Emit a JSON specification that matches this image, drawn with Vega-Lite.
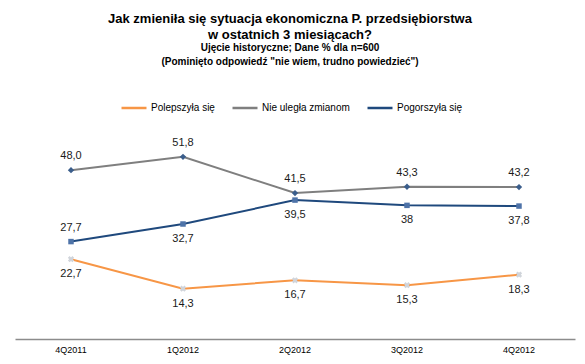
{
  "$schema": "https://vega.github.io/schema/vega-lite/v6.json",
  "autosize": "none",
  "width": 560,
  "height": 211,
  "padding": {"left": 15, "top": 128, "right": 10, "bottom": 25},
  "background": "white",
  "config": {
    "view": {"stroke": null},
    "font": "Liberation Sans"
  },
  "title": {
    "text": ["Jak zmieniła się sytuacja ekonomiczna P. przedsiębiorstwa", "w ostatnich 3 miesiącach?"],
    "subtitle": ["Ujęcie historyczne; Dane % dla n=600", "(Pominięto odpowiedź \"nie wiem, trudno powiedzieć\")"],
    "fontSize": 13,
    "fontWeight": "bold",
    "lineHeight": 16,
    "subtitleFontSize": 10,
    "subtitleFontWeight": "bold",
    "subtitleLineHeight": 14,
    "subtitlePadding": 1,
    "color": "#000000",
    "subtitleColor": "#000000",
    "anchor": "middle",
    "frame": "group",
    "dx": -5,
    "offset": 27
  },
  "data": {
    "values": [
      {"quarter": "4Q2011", "series": "Polepszyła się", "value": 22.7, "label": "22,7"},
      {"quarter": "1Q2012", "series": "Polepszyła się", "value": 14.3, "label": "14,3"},
      {"quarter": "2Q2012", "series": "Polepszyła się", "value": 16.7, "label": "16,7"},
      {"quarter": "3Q2012", "series": "Polepszyła się", "value": 15.3, "label": "15,3"},
      {"quarter": "4Q2012", "series": "Polepszyła się", "value": 18.3, "label": "18,3"},
      {"quarter": "4Q2011", "series": "Nie uległa zmianom", "value": 48.0, "label": "48,0"},
      {"quarter": "1Q2012", "series": "Nie uległa zmianom", "value": 51.8, "label": "51,8"},
      {"quarter": "2Q2012", "series": "Nie uległa zmianom", "value": 41.5, "label": "41,5"},
      {"quarter": "3Q2012", "series": "Nie uległa zmianom", "value": 43.3, "label": "43,3"},
      {"quarter": "4Q2012", "series": "Nie uległa zmianom", "value": 43.2, "label": "43,2"},
      {"quarter": "4Q2011", "series": "Pogorszyła się", "value": 27.7, "label": "27,7"},
      {"quarter": "1Q2012", "series": "Pogorszyła się", "value": 32.7, "label": "32,7"},
      {"quarter": "2Q2012", "series": "Pogorszyła się", "value": 39.5, "label": "39,5"},
      {"quarter": "3Q2012", "series": "Pogorszyła się", "value": 38.0, "label": "38"},
      {"quarter": "4Q2012", "series": "Pogorszyła się", "value": 37.8, "label": "37,8"}
    ]
  },
  "encoding": {
    "x": {
      "field": "quarter",
      "type": "ordinal",
      "sort": ["4Q2011", "1Q2012", "2Q2012", "3Q2012", "4Q2012"],
      "scale": {"type": "band", "paddingInner": 0, "paddingOuter": 0},
      "axis": {
        "title": null,
        "labelAngle": 0,
        "ticks": false,
        "domainColor": "#8c8c8c",
        "domainWidth": 1.5,
        "labelFontSize": 9,
        "labelFontWeight": "normal",
        "labelColor": "#000000",
        "labelPadding": 6,
        "grid": false
      }
    },
    "y": {
      "field": "value",
      "type": "quantitative",
      "scale": {"domain": [0, 60], "nice": false},
      "axis": null
    }
  },
  "layer": [
    {
      "mark": {"type": "line", "strokeWidth": 2, "interpolate": "linear"},
      "encoding": {
        "color": {
          "field": "series",
          "type": "nominal",
          "scale": {
            "domain": ["Polepszyła się", "Nie uległa zmianom", "Pogorszyła się"],
            "range": ["#F79646", "#7F7F7F", "#1F497D"]
          },
          "legend": {
            "title": null,
            "orient": "none",
            "direction": "horizontal",
            "legendX": 105,
            "legendY": -34,
            "symbolType": "stroke",
            "symbolSize": 625,
            "symbolStrokeWidth": 2.5,
            "labelFontSize": 10,
            "labelColor": "#000000",
            "labelOffset": 3,
            "columnPadding": 12
          }
        }
      }
    },
    {
      "transform": [{"filter": "datum.series === 'Nie uległa zmianom'"}],
      "mark": {"type": "point", "shape": "diamond", "filled": true, "size": 40, "color": "#3B5E8C", "opacity": 1}
    },
    {
      "transform": [{"filter": "datum.series === 'Pogorszyła się'"}],
      "mark": {"type": "point", "shape": "square", "filled": true, "size": 30, "color": "#4E73A8", "opacity": 1}
    },
    {
      "transform": [{"filter": "datum.series === 'Polepszyła się'"}],
      "mark": {"type": "point", "shape": "cross", "angle": 45, "filled": true, "size": 40, "color": "#D0D4DA", "opacity": 1}
    },
    {
      "transform": [{"filter": "datum.series === 'Nie uległa zmianom' || (datum.series === 'Pogorszyła się' && datum.quarter === '4Q2011')"}],
      "mark": {"type": "text", "dy": -14, "fontSize": 11, "color": "#1a1a1a"},
      "encoding": {"text": {"field": "label"}}
    },
    {
      "transform": [{"filter": "datum.series === 'Polepszyła się' || (datum.series === 'Pogorszyła się' && datum.quarter !== '4Q2011')"}],
      "mark": {"type": "text", "dy": 15, "fontSize": 11, "color": "#1a1a1a"},
      "encoding": {"text": {"field": "label"}}
    }
  ]
}
